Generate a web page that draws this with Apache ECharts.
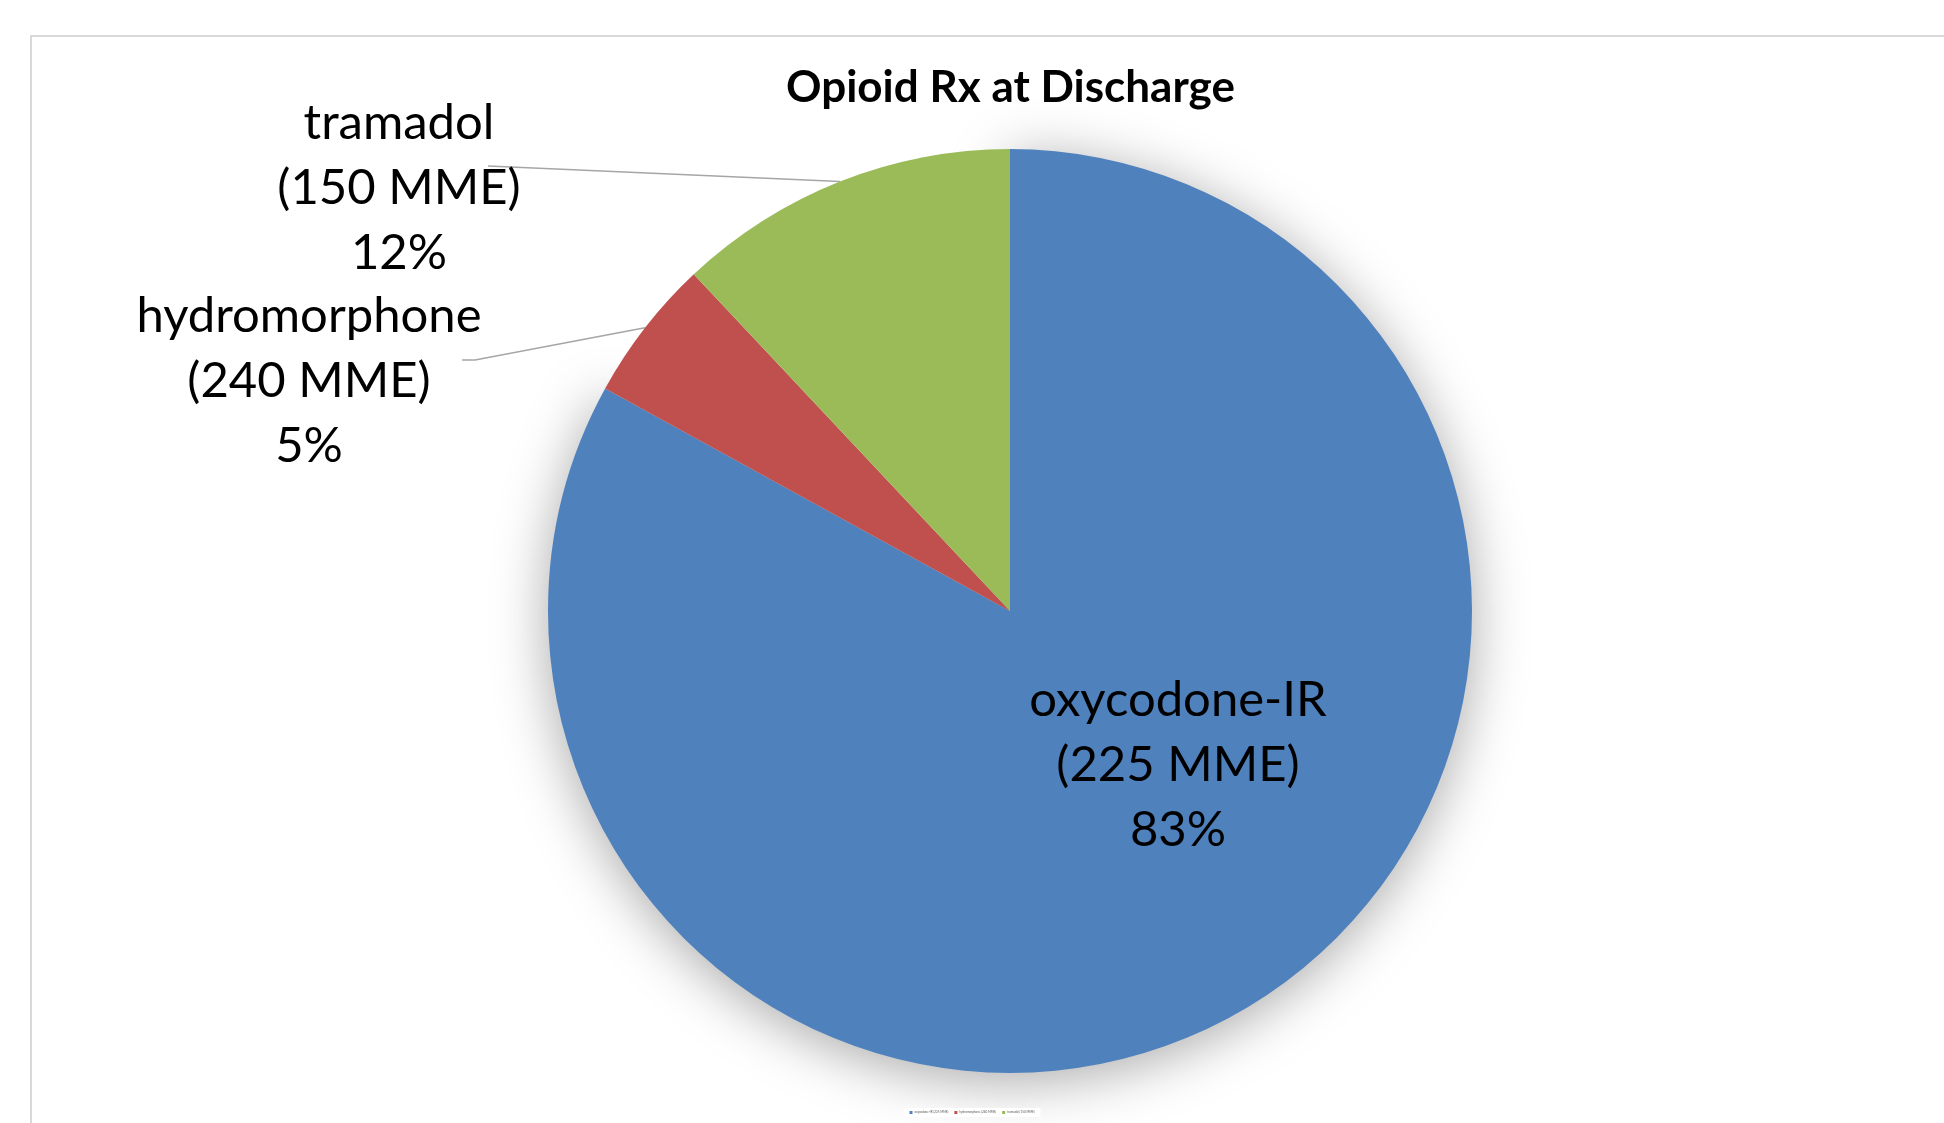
<!DOCTYPE html>
<html>
<head>
<meta charset="utf-8">
<title>Opioid Rx at Discharge</title>
<script src="https://cdn.jsdelivr.net/npm/echarts@6/dist/echarts.min.js"></script>
<style>
  html, body { margin: 0; padding: 0; background: #ffffff; }
  #chart { width: 1944px; height: 1123px; }
</style>
</head>
<body>
<div id="chart"></div>
<script>
// Discharge prescriptions by opioid
const drugs = ['oxycodone-IR', 'hydromorphone', 'tramadol'];
const mmeDoses = [225, 240, 150];
const shares = [83, 5, 12];
const sliceColors = ['#4F81BD', '#C0504D', '#9BBB59'];

const FONT = 'Lato, "Open Sans", sans-serif';
const legendNames = drugs.map((d, i) => `${d} (${mmeDoses[i]} MME)`);

// Where each data label block sits (centre x, top y) and how its leader line ends
const labelBlocks = [
  { x: 1178, y: 668, tail: null },
  { x: 309, y: 284, tail: [[166, 76], [153, 76]] },
  { x: 399, y: 91, tail: [[89, 75]] }
];

const chart = echarts.init(document.getElementById('chart'), null, { renderer: 'canvas' });

chart.setOption({
  backgroundColor: '#ffffff',
  animation: false,
  title: {
    text: 'Opioid Rx at Discharge',
    left: 786,
    top: 66,
    padding: 0,
    textStyle: { fontFamily: FONT, fontWeight: 'bold', fontSize: 44, color: '#000000' }
  },
  legend: {
    bottom: 6,
    left: 'center',
    padding: [3, 6, 3, 6],
    itemWidth: 3,
    itemHeight: 3,
    itemGap: 6,
    backgroundColor: '#ffffff',
    icon: 'rect',
    textStyle: { fontFamily: FONT, fontSize: 3, color: '#595959', padding: [0, 0, 0, -3] },
    data: legendNames
  },
  graphic: [{
    type: 'rect',
    silent: true,
    z: -1,
    shape: { x: 31, y: 36, width: 4000, height: 4000 },
    style: { fill: 'none', stroke: '#d9d9d9', lineWidth: 2 }
  }],
  series: [{
    type: 'pie',
    center: [1010, 611],
    radius: 462,
    startAngle: 90,
    clockwise: true,
    avoidLabelOverlap: false,
    data: shares.map((v, i) => ({
      name: legendNames[i],
      value: v,
      itemStyle: i === 0
        ? { color: sliceColors[i], shadowBlur: 55, shadowOffsetY: 8, shadowColor: 'rgba(0,0,0,0.34)' }
        : { color: sliceColors[i] },
      label: { position: i === 0 ? 'inside' : 'outside' },
      labelLine: { show: i !== 0 }
    })),
    label: {
      formatter: (p) => `${drugs[p.dataIndex]}\n(${mmeDoses[p.dataIndex]} MME)\n${Math.round(p.percent)}%`,
      fontFamily: FONT,
      fontSize: 49,
      lineHeight: 65,
      color: '#000000',
      align: 'center'
    },
    labelLine: {
      show: true,
      lineStyle: { color: '#a6a6a6', width: 1.5 }
    },
    labelLayout: (params) => {
      const b = labelBlocks[params.dataIndex];
      const out = { x: b.x, y: b.y, align: 'center', verticalAlign: 'top' };
      if (b.tail && params.labelLinePoints) {
        const start = params.labelLinePoints[0];
        out.labelLinePoints = [start].concat(b.tail.map(t => [b.x + t[0], b.y + t[1]]));
      }
      return out;
    }
  }]
});
</script>
</body>
</html>
